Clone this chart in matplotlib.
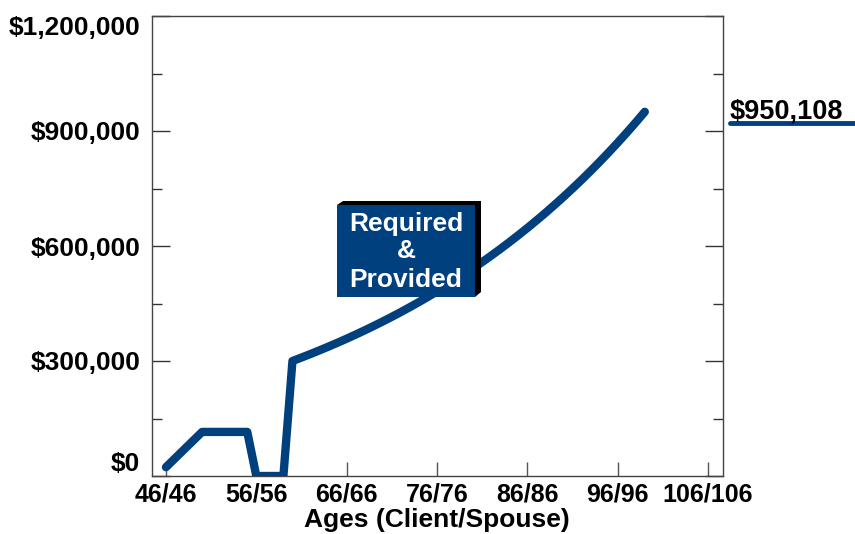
import matplotlib
matplotlib.use("Agg")
from matplotlib import pyplot as plt
from matplotlib.patches import Polygon, Rectangle
from matplotlib.ticker import FixedLocator, MultipleLocator
import matplotlib.transforms as mtransforms

plt.rcParams['font.family'] = ['Liberation Sans', 'DejaVu Sans']
plt.rcParams['font.weight'] = 'bold'
plt.rcParams['axes.labelweight'] = 'bold'

# ages on the x axis, dollars needed each year
ages = [46, 47, 48, 49, 50, 51, 52, 53, 54, 55, 56, 57, 58, 59,
        60, 61, 62, 63, 64, 65, 66, 67, 68, 69, 70, 71, 72, 73, 74, 75, 76, 77, 78, 79,
        80, 81, 82, 83, 84, 85, 86, 87, 88, 89, 90, 91, 92, 93, 94, 95, 96, 97, 98, 99]
needed = [23000, 46000, 69000, 92000, 115000, 115000, 115000, 115000, 115000, 115000,
          0, 0, 0, 0,
          300000, 309000, 318270, 327818, 337653, 347782, 358216, 368962, 380031, 391432,
          403175, 415270, 427728, 440560, 453777, 467390, 481412, 495854, 510730, 526052,
          541833, 558088, 574831, 592076, 609838, 628133, 646977, 666386, 686378, 706969,
          728178, 750024, 772524, 795700, 819571, 844158, 869483, 895567, 922434, 950108]

y_ticks = [0, 300000, 600000, 900000, 1200000]
y_labels = ['$0', '$300,000', '$600,000', '$900,000', '$1,200,000']
x_ticks = [46, 56, 66, 76, 86, 96, 106]
x_labels = ['46/46', '56/56', '66/66', '76/76', '86/86', '96/96', '106/106']
end_label = '$950,108'

blue = '#00407f'
W, H = 855, 534

fig = plt.figure(figsize=(W / 100, H / 100), dpi=100)
ax = fig.add_axes([151.5 / W, 1 - 476 / H, (722.5 - 151.5) / W, (476 - 16) / H])

ax.plot(ages, needed, color=blue, lw=6, solid_capstyle='round',
        solid_joinstyle='round', zorder=3)

ax.set_xlim(44.4, 107.6)
ax.set_ylim(0, 1200000)

ax.xaxis.set_major_locator(FixedLocator(x_ticks))
ax.set_xticklabels(x_labels)
ax.yaxis.set_major_locator(FixedLocator(y_ticks))
ax.yaxis.set_minor_locator(MultipleLocator(150000))
ax.set_yticklabels(y_labels)

ax.tick_params(axis='y', which='major', direction='in', length=13, width=1,
               color='#333333', right=True, labelsize=19, pad=8)
ax.tick_params(axis='y', which='minor', direction='in', length=7, width=1,
               color='#333333', right=True)
ax.tick_params(axis='x', which='major', direction='in', length=10, width=1,
               color='#555555', labelsize=18, pad=5)
for s in ax.spines.values():
    s.set_color('#444444')
    s.set_linewidth(1)

# keep the end labels inside the axis height
yt = ax.yaxis.get_major_ticks()
yt[0].label1.set_va('bottom')
yt[-1].label1.set_va('top')

ax.set_xlabel('Ages (Client/Spouse)', fontsize=19, labelpad=1)

# value label for the last year, off to the right of the plot
trans = mtransforms.blended_transform_factory(ax.transAxes, ax.transData)
ax.text(1.013, 950108, end_label, transform=trans, fontsize=19.5, ha='left',
        va='center', clip_on=False)
ax.plot([1.013, 1.3], [920000, 920000], transform=trans, color=blue, lw=3.5,
        solid_capstyle='round', clip_on=False)

# "Required & Provided" box with a dark extruded edge
def px(x, y):
    return (x / W, 1 - y / H)

shadow = Polygon([px(337, 205), px(343, 201), px(481, 201), px(481, 292),
                  px(475, 297), px(475, 205)], closed=True,
                 transform=fig.transFigure, facecolor='black', edgecolor='none',
                 zorder=4)
fig.patches.append(shadow)
x0, y0 = px(337, 297)
box = Rectangle((x0, y0), (475 - 337) / W, (297 - 205) / H,
                transform=fig.transFigure, facecolor=blue, edgecolor='none',
                zorder=5)
fig.patches.append(box)
cx = 406 / W
for txt, yy in [('Required', 224), ('&', 251), ('Provided', 280)]:
    fig.text(cx, 1 - yy / H, txt, color='white', fontsize=19, ha='center',
             va='center', zorder=6)

fig.savefig('out.png', dpi=100)
